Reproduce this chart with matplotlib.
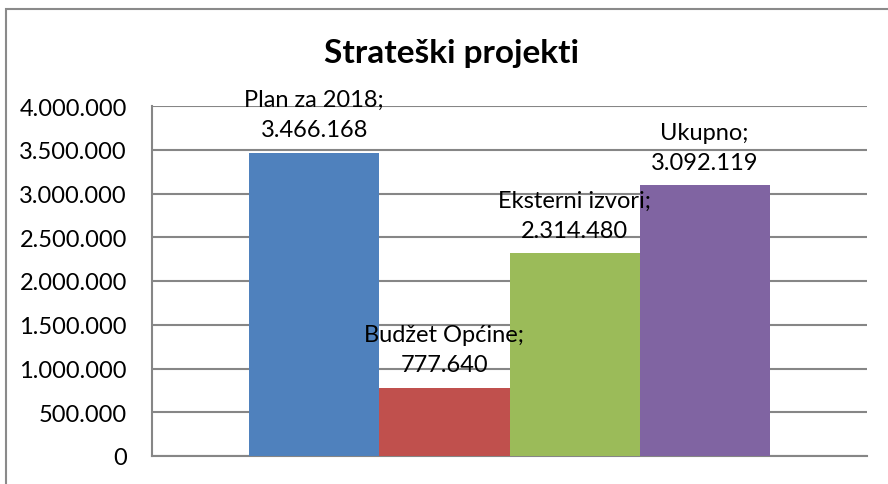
"""
Strateški projekti - stupčasti graf
"""

import matplotlib.pyplot as plt
import matplotlib.patches as mpatches
from matplotlib.ticker import FuncFormatter, MultipleLocator

# podaci
names = ["Plan za 2018", "Budžet Općine", "Eksterni izvori", "Ukupno"]
values = [3466168, 777640, 2314480, 3092119]
colors = ["#4F81BD", "#C0504D", "#9BBB59", "#8064A2"]

plt.rcParams['font.family'] = ['Lato', 'DejaVu Sans']


def fmt_dot(v, pos=None):
    # 1,000,000 -> 1.000.000
    return f"{v:,.0f}".replace(",", ".")


fig = plt.figure(figsize=(8.88, 4.85), dpi=100)
ax = fig.add_axes([152 / 888, 28 / 485, 715 / 888, 350 / 485])

# okvir oko cijelog grafa
frame = mpatches.Rectangle((6 / 888, -0.2), 1.2, 1.2 - 10 / 485, transform=fig.transFigure,
                           fill=False, edgecolor="#8a8a8a", linewidth=1.5)
fig.patches.append(frame)

n = len(values)
w = 0.182
for i, (name, val, c) in enumerate(zip(names, values, colors)):
    x = (i - (n - 1) / 2) * w
    ax.bar(x, val, width=w, color=c, zorder=3)
    ax.annotate(f"{name};\n{fmt_dot(val)}", (x, val), xytext=(0, 9), textcoords="offset points",
                ha="center", va="bottom", fontsize=17, linespacing=1.55, zorder=4)

ax.set_xlim(-0.5, 0.5)
ax.set_ylim(0, 4000000)
ax.yaxis.set_major_locator(MultipleLocator(500000))
ax.yaxis.set_major_formatter(FuncFormatter(fmt_dot))
ax.tick_params(axis="y", length=0, pad=18, labelsize=17)
ax.set_xticks([])
ax.grid(axis="y", color="#868686", linewidth=1.5, zorder=0)
for s in ["top", "right"]:
    ax.spines[s].set_visible(False)
for s in ["left", "bottom"]:
    ax.spines[s].set_color("#868686")
    ax.spines[s].set_linewidth(1.5)

fig.text(451 / 888, 1 - 53 / 485, "Strateški projekti", ha="center", va="center",
         fontsize=24, fontweight="bold")

fig.savefig("out.png", dpi=100)
